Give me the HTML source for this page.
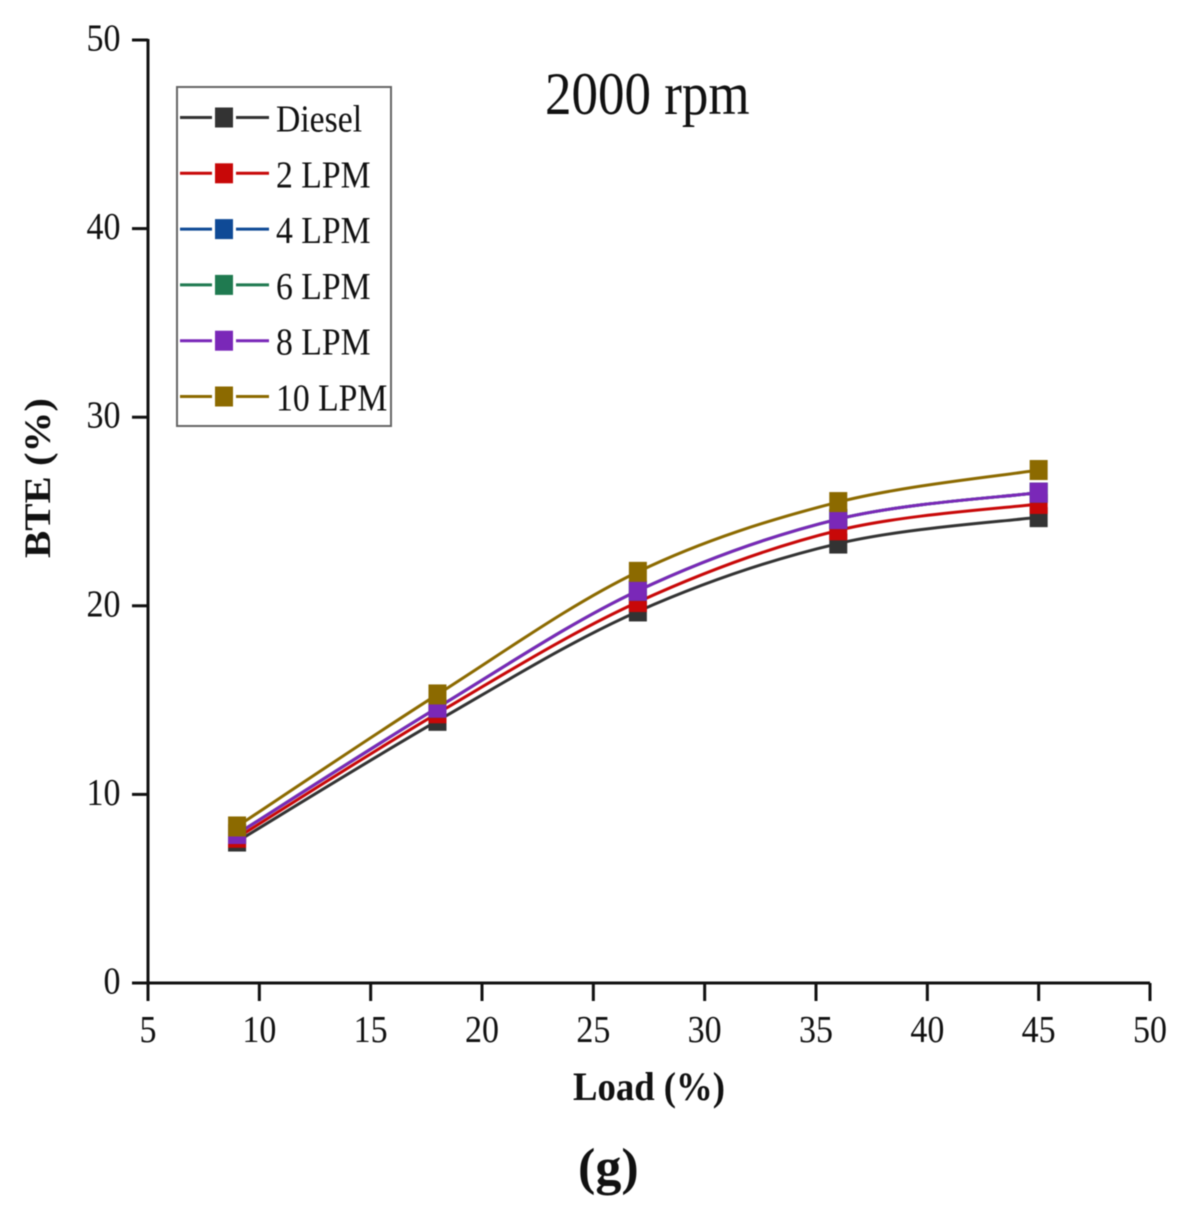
<!DOCTYPE html>
<html lang="en">
<head>
<meta charset="utf-8">
<title>BTE vs Load at 2000 rpm</title>
<style>
html,body{margin:0;padding:0;background:#fff;width:1191px;height:1214px;overflow:hidden}
svg{display:block;filter:blur(0.45px)}
text{font-family:"Liberation Serif",serif;fill:#111}
</style>
</head>
<body>
<svg id="chart" width="1191" height="1214" viewBox="0 0 1191 1214" xmlns="http://www.w3.org/2000/svg">
  <rect width="1191" height="1214" fill="#fff"/>
  <g id="series"></g>
  <g id="axes"></g>
  <text x="545" y="0" font-size="53" transform="translate(0,114) scale(1,1.13)">2000 rpm</text>
  <text x="573" y="0" font-size="38" font-weight="bold" textLength="152" lengthAdjust="spacingAndGlyphs" transform="translate(0,1100) scale(1,1.05)">Load (%)</text>
  <text x="0" y="0" font-size="37" font-weight="bold" textLength="160" lengthAdjust="spacingAndGlyphs" transform="translate(50,558) rotate(-90)">BTE (%)</text>
  <text x="578" y="0" font-size="52" font-weight="bold" transform="translate(0,1184)">(g)</text>
  <g id="legend">
    <rect x="177" y="87" width="214" height="339" fill="#fff" stroke="#666" stroke-width="2"/>
  </g>
</svg>
<script>
const loads = [9, 18, 27, 36, 45];
const dieselBte = [7.5, 13.9, 19.7, 23.3, 24.7];
const lpm2Bte = [7.7, 14.3, 20.2, 24.0, 25.4];
const lpm4Bte = [7.9, 14.6, 20.8, 24.6, 26.0];
const lpm6Bte = [7.9, 14.6, 20.8, 24.6, 26.0];
const lpm8Bte = [7.9, 14.6, 20.8, 24.6, 26.0];
const lpm10Bte = [8.3, 15.3, 21.8, 25.5, 27.2];
const seriesNames = ["Diesel", "2 LPM", "4 LPM", "6 LPM", "8 LPM", "10 LPM"];
const seriesValues = [dieselBte, lpm2Bte, lpm4Bte, lpm6Bte, lpm8Bte, lpm10Bte];
const seriesColors = ["#333333", "#c80808", "#0f4a96", "#1f7a50", "#7a28b8", "#8c6a00"];
const xTicks = [5, 10, 15, 20, 25, 30, 35, 40, 45, 50];
const yTicks = [0, 10, 20, 30, 40, 50];

const NS = "http://www.w3.org/2000/svg";
const xScale = v => 148 + (v - 5) * (1150 - 148) / 45;
const yScale = v => 983 - v * (983 - 40) / 50;

function make(tag, attrs, parent) {
  const el = document.createElementNS(NS, tag);
  for (const k in attrs) el.setAttribute(k, attrs[k]);
  parent.appendChild(el);
  return el;
}

function smoothPath(pts) {
  let d = "M" + pts[0][0] + "," + pts[0][1];
  for (let i = 0; i < pts.length - 1; i++) {
    const p0 = pts[Math.max(i - 1, 0)], p1 = pts[i], p2 = pts[i + 1], p3 = pts[Math.min(i + 2, pts.length - 1)];
    const c1x = p1[0] + (p2[0] - p0[0]) / 6, c1y = p1[1] + (p2[1] - p0[1]) / 6;
    const c2x = p2[0] - (p3[0] - p1[0]) / 6, c2y = p2[1] - (p3[1] - p1[1]) / 6;
    d += " C" + c1x + "," + c1y + " " + c2x + "," + c2y + " " + p2[0] + "," + p2[1];
  }
  return d;
}

const seriesG = document.getElementById("series");
seriesValues.forEach((vals, s) => {
  const pts = vals.map((v, i) => [xScale(loads[i]), yScale(v)]);
  const line = make("path", {d: smoothPath(pts), fill: "none", stroke: seriesColors[s], "stroke-width": 3}, seriesG);
  
  
  pts.forEach(p => {
    const m = make("rect", {x: p[0] - 9, y: p[1] - 10, width: 18, height: 20, fill: seriesColors[s]}, seriesG);
    
    
  });
});

const axesG = document.getElementById("axes");
const axisStyle = {stroke: "#111", "stroke-width": 3};
const xAxis = make("line", {x1: 132, y1: yScale(0), x2: xScale(50), y2: yScale(0), ...axisStyle}, axesG);


const yAxis = make("line", {x1: xScale(5), y1: yScale(50) - 1, x2: xScale(5), y2: 1001, ...axisStyle}, axesG);



xTicks.forEach(t => {
  const x = xScale(t);
  const tick = make("line", {x1: x, y1: yScale(0), x2: x, y2: 1001, ...axisStyle}, axesG);
  
  
  const label = make("text", {x: 0, y: 0, "font-size": 34, "text-anchor": "middle", transform: "translate(" + x + ",1042) scale(1,1.13)"}, axesG);
  label.textContent = t;
  
  
});
yTicks.forEach(t => {
  const y = yScale(t);
  const tick = make("line", {x1: 132, y1: y, x2: xScale(5), y2: y, ...axisStyle}, axesG);
  
  
  const label = make("text", {x: 0, y: 0, "font-size": 34, "text-anchor": "end", transform: "translate(120.5," + (y + 10.5) + ") scale(1,1.13)"}, axesG);
  label.textContent = t;
  
  
});

const legendG = document.getElementById("legend");
seriesNames.forEach((name, s) => {
  const y = 117.5 + s * 55.8;
  const left = make("line", {x1: 180, y1: y, x2: 212, y2: y, stroke: seriesColors[s], "stroke-width": 3}, legendG);
  
  
  const right = make("line", {x1: 236, y1: y, x2: 269, y2: y, stroke: seriesColors[s], "stroke-width": 3}, legendG);
  
  
  const marker = make("rect", {x: 215, y: y - 10, width: 18, height: 20, fill: seriesColors[s]}, legendG);
  
  
  const label = make("text", {x: 0, y: 0, "font-size": 33.7, transform: "translate(276," + (y + 14) + ") scale(1,1.13)"}, legendG);
  label.textContent = name;
  
  
});
</script>
</body>
</html>
